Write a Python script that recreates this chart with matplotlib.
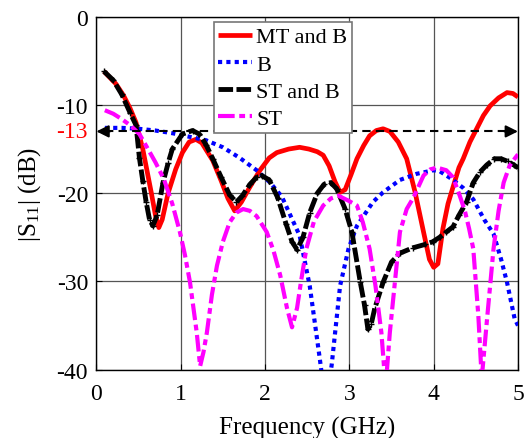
import matplotlib
matplotlib.use('Agg')
import matplotlib.pyplot as plt

plt.rcParams['font.family'] = 'Liberation Serif'
plt.rcParams['mathtext.fontset'] = 'custom'
plt.rcParams['mathtext.rm'] = 'Liberation Serif'
plt.rcParams['mathtext.it'] = 'Liberation Serif:italic'
plt.rcParams['axes.unicode_minus'] = False

# MT and B
f_mtb = [0.09, 0.23, 0.32, 0.40, 0.47, 0.55, 0.65, 0.70, 0.74, 0.78, 0.85, 0.94, 1.02,
         1.10, 1.18, 1.25, 1.38, 1.48, 1.56, 1.64, 1.72, 1.82, 1.94, 2.05, 2.14, 2.28,
         2.41, 2.52, 2.62, 2.69, 2.76, 2.83, 2.89, 2.95, 3.02, 3.09, 3.17, 3.24, 3.32,
         3.40, 3.48, 3.58, 3.68, 3.78, 3.88, 3.95, 4.00, 4.05, 4.11, 4.17, 4.23, 4.30,
         4.35, 4.43, 4.51, 4.59, 4.67, 4.77, 4.87, 4.94, 5.00]
s_mtb = [-6.2, -7.6, -8.9, -10.4, -12.0, -15.0, -19.9, -22.5, -23.9, -23.0, -20.0, -17.3, -15.4,
         -14.2, -13.9, -14.3, -16.3, -18.6, -20.6, -22.0, -21.0, -19.3, -17.4, -16.0, -15.4, -15.0,
         -14.8, -15.0, -15.3, -15.7, -16.9, -18.7, -19.9, -19.6, -17.9, -16.1, -14.6, -13.5, -12.9,
         -12.7, -13.0, -14.2, -16.1, -19.9, -24.4, -27.5, -28.4, -28.0, -24.0, -21.2, -19.3, -17.1,
         -16.1, -14.2, -12.7, -11.2, -10.1, -9.2, -8.6, -8.7, -9.1]

# B
f_b = [0.10, 0.30, 0.50, 0.70, 0.90, 1.10, 1.30, 1.50, 1.70, 1.90, 2.06, 2.20, 2.30, 2.41,
       2.53, 2.65, 2.72, 2.79, 2.89, 2.99, 3.09, 3.28, 3.40, 3.60, 3.80, 4.00, 4.07, 4.20,
       4.35, 4.47, 4.60, 4.71, 4.80, 4.87, 4.96, 5.00]
s_b = [-12.6, -12.6, -12.7, -12.9, -13.2, -13.6, -14.0, -14.8, -16.0, -17.4, -18.8, -20.4, -22.5, -24.8,
       -30.5, -38.8, -44.0, -39.5, -30.5, -26.3, -23.7, -21.0, -19.9, -18.5, -17.8, -17.4, -17.5, -18.3,
       -19.4, -20.7, -23.0, -24.6, -27.5, -30.1, -34.2, -35.0]

# ST and B
f_stb = [0.09, 0.20, 0.30, 0.40, 0.47, 0.51, 0.55, 0.59, 0.63, 0.67, 0.72, 0.79, 0.85, 0.90,
         1.02, 1.14, 1.22, 1.30, 1.38, 1.48, 1.58, 1.66, 1.73, 1.82, 1.90, 1.96, 2.05, 2.15,
         2.25, 2.32, 2.38, 2.45, 2.53, 2.62, 2.70, 2.78, 2.85, 2.95, 3.03, 3.13, 3.18, 3.22,
         3.26, 3.30, 3.40, 3.50, 3.60, 3.75, 3.90, 3.99, 4.07, 4.15, 4.23, 4.30, 4.39, 4.47,
         4.55, 4.63, 4.72, 4.80, 4.88, 4.95, 5.00]
s_stb = [-6.2, -7.2, -8.8, -10.9, -12.3, -16.0, -18.6, -21.0, -23.0, -23.7, -22.5, -18.8, -16.6, -15.0,
         -13.3, -12.9, -13.3, -14.5, -16.1, -18.2, -20.2, -21.0, -20.3, -19.0, -18.2, -18.0, -18.5, -20.5,
         -23.5, -25.5, -26.4, -25.0, -22.2, -20.0, -19.0, -18.8, -19.5, -21.8, -24.4, -30.1, -32.7, -35.4,
         -34.8, -33.1, -30.1, -27.8, -26.8, -26.2, -25.8, -25.5, -25.0, -24.4, -23.8, -22.5, -21.0, -18.8,
         -17.6, -16.8, -16.1, -16.1, -16.4, -16.8, -17.1]

# ST
f_st = [0.10, 0.20, 0.30, 0.40, 0.51, 0.60, 0.70, 0.80, 0.90, 0.99, 1.05, 1.11, 1.19, 1.23,
        1.27, 1.31, 1.37, 1.43, 1.50, 1.58, 1.66, 1.74, 1.82, 1.90, 2.02, 2.10, 2.18, 2.26,
        2.32, 2.38, 2.43, 2.49, 2.58, 2.69, 2.78, 2.87, 2.98, 3.09, 3.16, 3.24, 3.31, 3.38,
        3.43, 3.48, 3.56, 3.60, 3.68, 3.76, 3.88, 3.96, 4.04, 4.15, 4.23, 4.31, 4.37, 4.42,
        4.47, 4.53, 4.57, 4.63, 4.71, 4.77, 4.83, 4.90, 4.96, 5.00]
s_st = [-10.6, -11.0, -11.6, -12.3, -13.3, -14.8, -16.5, -18.4, -21.2, -24.4, -27.0, -30.1, -35.8, -39.6,
        -38.0, -35.8, -31.5, -28.2, -25.5, -23.3, -22.2, -21.8, -22.0, -22.6, -24.4, -26.5, -29.3, -33.0,
        -35.2, -33.0, -29.8, -26.3, -23.2, -21.4, -20.6, -20.3, -20.8, -21.4, -23.3, -26.3, -30.5, -35.8,
        -42.0, -35.8, -28.2, -24.4, -21.8, -20.5, -18.0, -17.3, -17.1, -17.4, -18.2, -20.3, -22.0, -24.0,
        -26.3, -33.9, -41.0, -34.6, -26.3, -22.0, -18.8, -16.9, -16.1, -15.6]

ref_level = -13

fig = plt.figure(figsize=(5.24, 4.39), dpi=100)
ax = fig.add_axes([0.184, 0.1556, 0.8045, 0.8041])

ax.plot(f_mtb, s_mtb, color='#ff0000', lw=3.4, solid_capstyle='butt', label='MT and B', zorder=3)
ax.plot(f_b, s_b, color='#0000ff', lw=3.0, linestyle=(0, (1, 1)), dash_capstyle='butt',
        label='B', zorder=3)
ax.plot(f_stb, s_stb, color='black', lw=3.5, linestyle=(0, (3.0, 0.7)), dash_capstyle='butt',
        label='ST and B', zorder=3)
ax.plot(f_stb, s_stb, linestyle='none', marker='+', ms=5, mew=1.0, color='black', zorder=3)
ax.plot(f_st, s_st, color='#ff00ff', lw=3.0, linestyle=(0, (4, 1.1, 1.4, 1.1)),
        dash_capstyle='butt', label='ST', zorder=3)

# -13 dB reference line with arrow heads at both ends
ax.plot([0.1, 4.9], [ref_level, ref_level], color='black', lw=1.5,
        linestyle=(0, (4, 2.5)), zorder=4)
for x_tip, x_tail in [(0.0, 0.16), (5.0, 4.84)]:
    ax.annotate('', xy=(x_tip, ref_level), xytext=(x_tail, ref_level),
                arrowprops=dict(arrowstyle='-|>', color='black', lw=1.5,
                                mutation_scale=18, shrinkA=0, shrinkB=0),
                zorder=4, annotation_clip=False)

ax.set_xlim(0, 5)
ax.set_ylim(-40, 0)
ax.set_xticks([0, 1, 2, 3, 4, 5])
ax.set_yticks([0, -10, -20, -30, -40])
ax.grid(True, color='#555555', lw=0.9)
ax.set_axisbelow(True)
ax.tick_params(direction='in', length=4, labelsize=17, pad=6, color='black')
ax.tick_params(axis='x', pad=9.5)
for sp in ax.spines.values():
    sp.set_color('black')
    sp.set_linewidth(1.0)

ax.text(-0.02, ref_level, '-13', color='#ff0000', fontsize=17, ha='right', va='center',
        transform=ax.get_yaxis_transform())

ax.set_xlabel('Frequency (GHz)', fontsize=18, labelpad=9)
ax.set_ylabel(r'|S$_{11}$| (dB)', fontsize=18, labelpad=10)

leg = ax.legend(loc='upper left', bbox_to_anchor=(0.279, 0.984), borderaxespad=0,
                fontsize=16, frameon=True, fancybox=False, framealpha=1,
                edgecolor='#777777', borderpad=0.2, handlelength=1.5,
                handletextpad=0.2, labelspacing=0.3)
leg.get_frame().set_linewidth(1.2)
leg.set_zorder(5)

fig.savefig('out.png', dpi=100)
